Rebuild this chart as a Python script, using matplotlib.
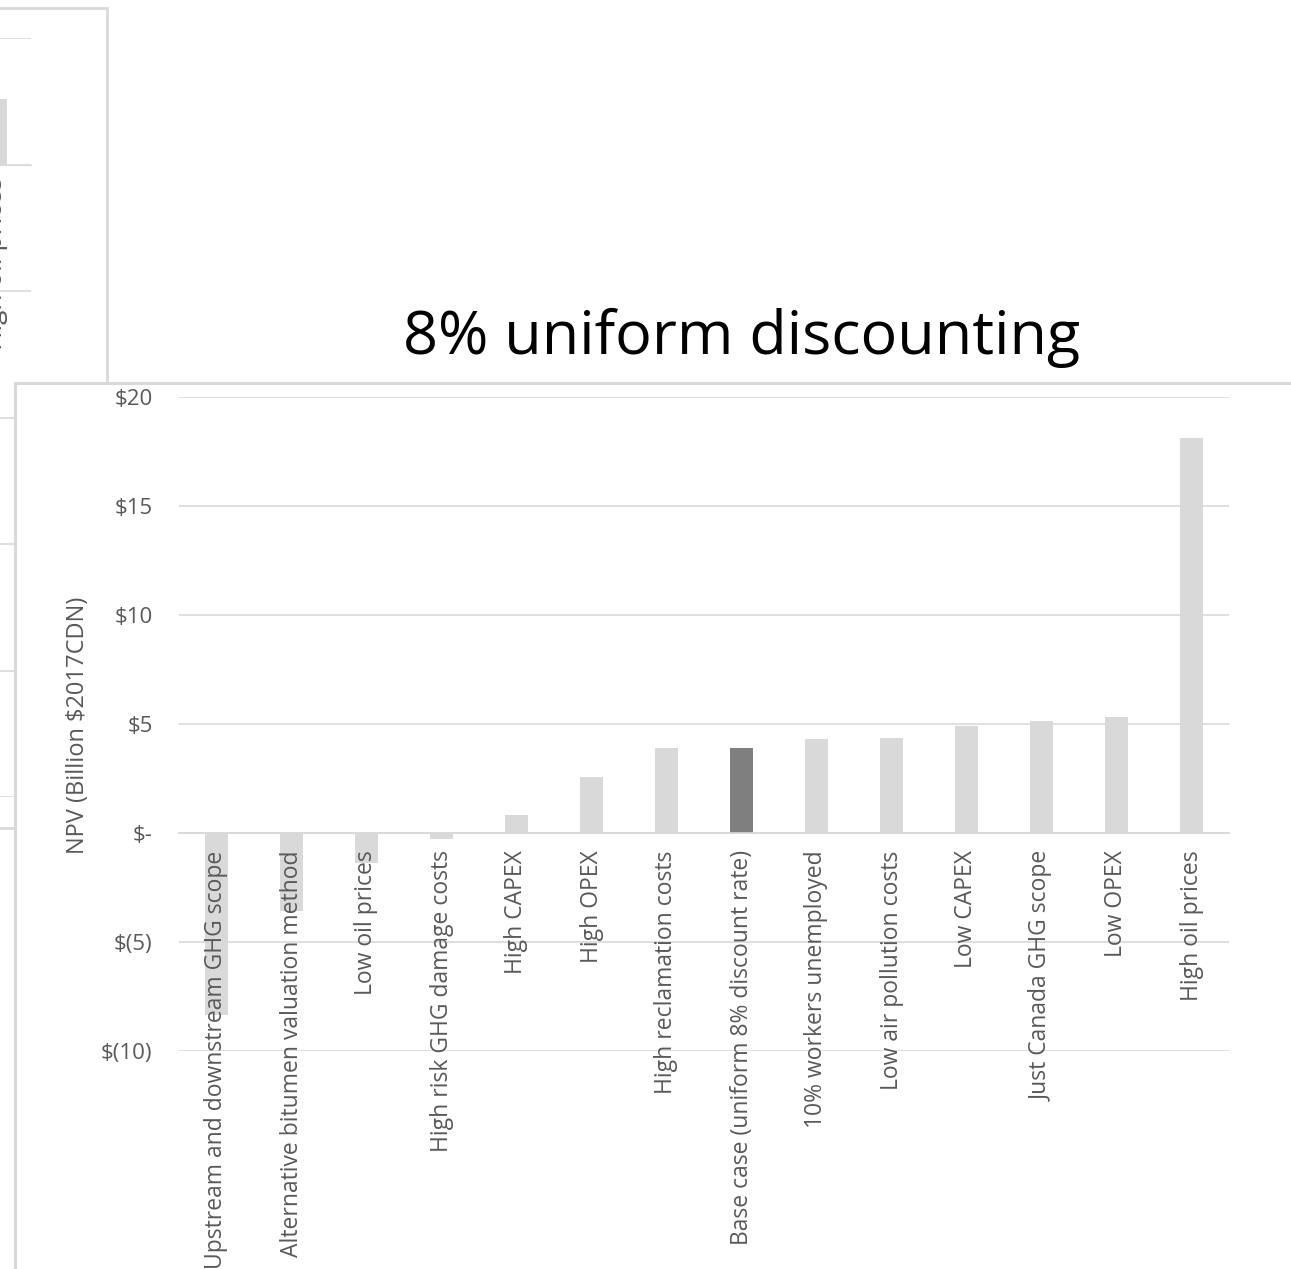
import matplotlib.pyplot as plt
from matplotlib.patches import Rectangle

# main chart data (NPV, billion $2017 CDN)
categories = ['Upstream and downstream GHG scope', 'Alternative bitumen valuation method',
              'Low oil prices', 'High risk GHG damage costs', 'High CAPEX', 'High OPEX',
              'High reclamation costs', 'Base case (uniform 8% discount rate)',
              '10% workers unemployed', 'Low air pollution costs', 'Low CAPEX',
              'Just Canada GHG scope', 'Low OPEX', 'High oil prices']
npv = [-8.35, -3.57, -1.38, -0.28, 0.84, 2.55, 3.9, 3.92, 4.33, 4.38, 4.92, 5.13, 5.32, 18.12]
base_case = 'Base case (uniform 8% discount rate)'
yticks = [-10, -5, 0, 5, 10, 15, 20]
yticklabels = ['$(10)', '$(5)', '$-', '$5', '$10', '$15', '$20']

# the chart partly hidden behind (only its last bar shows)
bg_categories = ['High oil prices']
bg_npv = [2.6]

W, H = 1291, 1269
plt.rcParams['font.family'] = ['Open Sans', 'DejaVu Sans']
fig = plt.figure(figsize=(W / 100, H / 100), dpi=100)
fig.patch.set_facecolor('white')

def px(x0, y0, x1, y1):
    # pixel box (top-left origin) -> figure fraction [l, b, w, h]
    return [x0 / W, 1 - y1 / H, (x1 - x0) / W, (y1 - y0) / H]

grid_c = '#d9d9d9'
text_c = '#595959'

# --- background chart (cut off at the left edge) ---
fig.add_artist(Rectangle((-60 / W, 1 - 828 / H), 167 / W, 820 / H, transform=fig.transFigure,
                         facecolor='white', edgecolor=grid_c, lw=2, zorder=-1))
bg = fig.add_axes(px(-45, 38, 31, 797), zorder=0)
bg.set_facecolor('none')
for s in ['top', 'right', 'left']:
    bg.spines[s].set_visible(False)
bg.spines['bottom'].set_position(('data', 0))
bg.spines['bottom'].set_color(grid_c)
bg.bar(range(len(bg_categories)), bg_npv, width=0.37, color=grid_c, zorder=2)
bg.set_xlim(-0.5, 0.5)
bg.set_ylim(-25, 5)
bg.set_yticks(range(-25, 6, 5))
bg.yaxis.grid(True, color=grid_c, lw=1.2)
bg.tick_params(axis='y', length=0, labelleft=False)
bg.set_xticks(range(len(bg_categories)))
bg.tick_params(axis='x', length=0, labelbottom=False)
for i, c in enumerate(bg_categories):
    bg.annotate(c, (i, 0), xytext=(6.5, -8.6), textcoords='offset points', rotation=90,
                rotation_mode='anchor', ha='right', va='baseline', fontsize=19,
                color=text_c, annotation_clip=False)

# --- frame of the main chart ---
fig.add_artist(Rectangle((15 / W, -0.1), 1.2, 1.1 - 383 / H, transform=fig.transFigure,
                         facecolor='white', edgecolor=grid_c, lw=2.2, zorder=1))

fig.text(742 / W, 1 - 338 / H, '8% uniform discounting', ha='center', va='center',
         fontsize=44, color='black', zorder=3)

# --- main chart ---
ax = fig.add_axes(px(179, 397, 1229, 1051), zorder=2)
ax.set_facecolor('none')
for s in ['top', 'right', 'left']:
    ax.spines[s].set_visible(False)
ax.spines['bottom'].set_position(('data', 0))
ax.spines['bottom'].set_color(grid_c)
ax.spines['bottom'].set_linewidth(1.2)
colors = ['#7f7f7f' if c == base_case else grid_c for c in categories]
ax.bar(range(len(categories)), npv, width=0.31, color=colors, zorder=2)
ax.set_xlim(-0.5, len(categories) - 0.5)
ax.set_ylim(-10, 20)
ax.set_yticks(yticks)
ax.set_yticklabels(yticklabels, fontsize=16, color=text_c)
ax.yaxis.grid(True, color=grid_c, lw=1.2)
ax.tick_params(axis='y', length=0, pad=19)
ax.set_xticks(range(len(categories)))
ax.tick_params(axis='x', length=0, labelbottom=False)
ax.set_axisbelow(True)
# category labels sit next to the zero line and are drawn over the bars
for i, c in enumerate(categories):
    ax.annotate(c, (i, 0), xytext=(0, -12.5), textcoords='offset points', rotation=90,
                ha='center', va='top', fontsize=16.5, color=text_c, zorder=4,
                annotation_clip=False)
ax.set_ylabel('NPV (Billion $2017CDN)', fontsize=17, color=text_c)
ax.yaxis.set_label_coords((90 - 179) / 1050, (1051 - 725) / 654)

fig.savefig('out.png', dpi=100)
